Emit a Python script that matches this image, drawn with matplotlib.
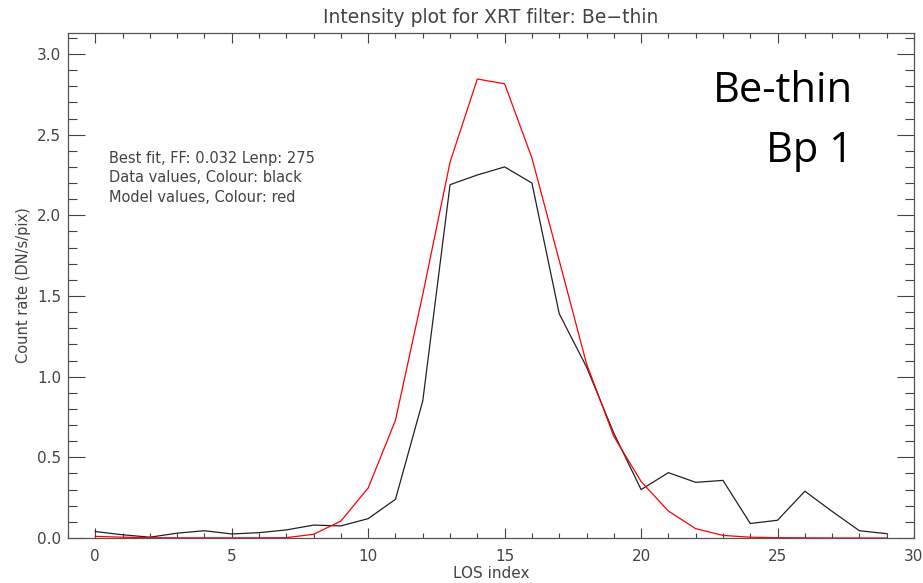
import numpy as np
import matplotlib
matplotlib.use("Agg")
import matplotlib.pyplot as plt
from matplotlib.ticker import MultipleLocator

los_index = list(range(30))
data_values = [0.04, 0.02, 0.005, 0.03, 0.045, 0.025, 0.033, 0.05, 0.08, 0.075,
               0.12, 0.24, 0.85, 2.19, 2.25, 2.30, 2.20, 1.39, 1.06, 0.65,
               0.30, 0.405, 0.345, 0.357, 0.09, 0.11, 0.29, 0.165, 0.045, 0.027]
model_values = [0.01, 0.005, 0.002, 0.001, 0.001, 0.001, 0.001, 0.002, 0.023, 0.105,
                0.31, 0.73, 1.51, 2.33, 2.845, 2.815, 2.355, 1.72, 1.08, 0.63,
                0.35, 0.167, 0.058, 0.016, 0.005, 0.002, 0.001, 0.0, 0.0, 0.0]

title = "Intensity plot for XRT filter: Be\u2212thin"
xlabel = "LOS index"
ylabel = "Count rate (DN/s/pix)"
info_lines = ["Best fit, FF: 0.032 Lenp: 275",
              "Data values, Colour: black",
              "Model values, Colour: red"]
big_labels = ["Be-thin", "Bp 1"]

txt = "#444444"
plt.rcParams['font.family'] = ['DejaVu Sans']

fig = plt.figure(figsize=(9.23, 5.83), dpi=100)
ax = fig.add_axes([68/923, 1-538/583, (914-68)/923, (538-33)/583])

ax.plot(los_index, data_values, color="#222222", lw=0.9)
ax.plot(los_index, model_values, color="#ff0000", lw=0.9)

ax.set_xlim(-1, 30)
ax.set_ylim(0, 3.13)
ax.xaxis.set_major_locator(MultipleLocator(5))
ax.xaxis.set_minor_locator(MultipleLocator(1))
ax.yaxis.set_major_locator(MultipleLocator(0.5))
ax.yaxis.set_minor_locator(MultipleLocator(0.1))
ax.set_xticks([0, 5, 10, 15, 20, 25, 30])
ax.set_xticklabels(["0", "5", "10", "15", "20", "25", "30"])
ax.set_yticks([0.0, 0.5, 1.0, 1.5, 2.0, 2.5, 3.0])
ax.set_yticklabels(["0.0", "0.5", "1.0", "1.5", "2.0", "2.5", "3.0"])

for s in ax.spines.values():
    s.set_color("#555555")
    s.set_linewidth(0.9)

ax.tick_params(axis='both', which='both', direction='in', top=True, right=True,
               color="#444444", width=0.8, labelcolor=txt, labelsize=11)
ax.tick_params(axis='x', which='major', length=7, pad=8)
ax.tick_params(axis='x', which='minor', length=3.5)
ax.tick_params(axis='y', which='major', length=12.5, pad=5)
ax.tick_params(axis='y', which='minor', length=6.5)

ax.set_title(title, fontsize=13.5, color=txt, pad=7)
ax.set_xlabel(xlabel, fontsize=11, color=txt, labelpad=1)
ax.set_ylabel(ylabel, fontsize=10.5, color=txt, labelpad=4)

for i, line in enumerate(info_lines):
    fig.text(109/923, 1-(159+19*i)/583, line, fontsize=10.5, color=txt,
             va='center', ha='left')

fig.text(853/923, 1-102/583, big_labels[0], fontsize=30, color='black',
         ha='right', va='baseline', family=['Open Sans', 'DejaVu Sans'])
fig.text(853/923, 1-162/583, big_labels[1], fontsize=30, color='black',
         ha='right', va='baseline', family=['Open Sans', 'DejaVu Sans'])

fig.savefig("out.png", dpi=100)
